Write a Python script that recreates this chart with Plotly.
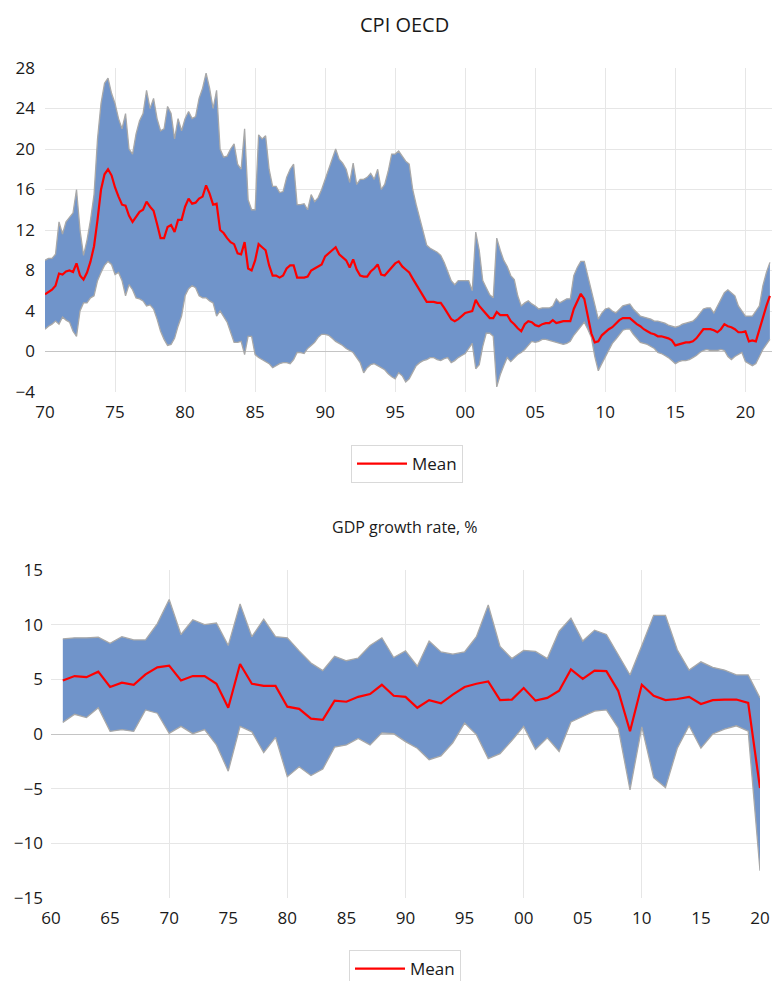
import plotly.graph_objects as go

# ---------------- CPI OECD (quarterly, 1970Q1 - 2021Q4) ----------------
cpi_start_year = 1970
cpi_upper = [
    9.0, 9.2, 9.2, 9.6,      # 1970
    12.8, 11.6, 12.8, 13.3,  # 1971
    13.7, 16.0, 12.0, 9.5,   # 1972
    11.0, 13.0, 15.5, 21.0,  # 1973
    24.5, 26.5, 27.0, 25.5,  # 1974
    24.5, 23.0, 22.0, 23.5,  # 1975
    20.0, 19.5, 21.5, 22.8,  # 1976
    23.5, 25.8, 24.0, 25.0,  # 1977
    23.0, 21.8, 22.0, 24.2,  # 1978
    23.5, 21.0, 23.0, 21.8,  # 1979
    23.0, 23.7, 23.0, 23.2,  # 1980
    25.0, 26.0, 27.5, 26.0,  # 1981
    24.0, 25.8, 20.0, 19.2,  # 1982
    19.3, 20.0, 20.5, 18.5,  # 1983
    18.0, 22.0, 15.0, 14.0,  # 1984
    14.0, 21.4, 21.0, 21.3,  # 1985
    18.0, 16.3, 16.3, 15.7,  # 1986
    15.8, 17.2, 18.0, 18.5,  # 1987
    14.5, 14.5, 14.6, 14.0,  # 1988
    15.5, 14.8, 15.2, 16.0,  # 1989
    17.0, 17.8, 18.8, 20.0,  # 1990
    19.0, 18.6, 18.0, 16.7,  # 1991
    18.6, 16.5, 17.0, 17.0,  # 1992
    17.2, 17.6, 17.0, 18.0,  # 1993
    16.0, 16.5, 17.8, 19.5,  # 1994
    19.5, 19.8, 19.3, 18.8,  # 1995
    18.5, 16.0, 14.5, 13.2,  # 1996
    12.0, 10.5, 10.2, 10.0,  # 1997
    9.8, 9.5, 8.8, 7.9,      # 1998
    7.0, 6.6, 7.0, 7.0,      # 1999
    7.0, 7.0, 6.0, 11.8,     # 2000
    10.0, 7.0, 6.3, 5.6,     # 2001
    5.3, 11.2, 10.0, 9.0,    # 2002
    8.4, 7.5, 7.1, 5.5,      # 2003
    4.5, 4.8, 5.0, 4.7,      # 2004
    4.5, 4.2, 4.3, 4.3,      # 2005
    4.3, 4.5, 5.2, 4.8,      # 2006
    5.0, 5.2, 5.2, 7.5,      # 2007
    8.3, 8.9, 8.9, 7.5,      # 2008
    6.0, 4.5, 3.2, 3.8,      # 2009
    4.2, 4.3, 4.0, 3.8,      # 2010
    4.2, 4.5, 4.6, 4.7,      # 2011
    4.2, 3.8, 3.5, 3.4,      # 2012
    3.3, 3.2, 3.0, 3.0,      # 2013
    2.9, 2.8, 2.6, 2.5,      # 2014
    2.4, 2.5, 2.7, 2.8,      # 2015
    2.9, 3.0, 3.3, 3.8,      # 2016
    4.2, 4.3, 4.3, 3.8,      # 2017
    4.5, 5.2, 5.8, 6.1,      # 2018
    5.8, 5.5, 4.5, 4.0,      # 2019
    3.5, 3.5, 3.5, 4.0,      # 2020
    4.5, 6.5, 7.8, 8.8,      # 2021
]
cpi_lower = [
    2.2, 2.5, 2.7, 3.0,      # 1970
    2.7, 3.4, 3.1, 2.9,      # 1971
    2.0, 1.5, 4.0, 4.8,      # 1972
    4.8, 5.3, 5.5, 7.0,      # 1973
    7.8, 8.5, 8.9, 8.6,      # 1974
    7.6, 7.8, 7.0, 5.5,      # 1975
    6.6, 6.1, 5.3, 5.2,      # 1976
    5.0, 4.5, 4.6, 4.2,      # 1977
    3.2, 2.0, 1.2, 0.6,      # 1978
    0.7, 1.3, 2.5, 3.5,      # 1979
    5.5, 6.2, 6.5, 6.3,      # 1980
    5.5, 5.3, 5.3, 5.0,      # 1981
    4.8, 3.5, 4.0, 3.4,      # 1982
    2.9, 1.9, 0.9, 0.9,      # 1983
    1.0, -0.3, 1.5, 1.5,     # 1984
    -0.3, -0.6, -0.8, -1.0,  # 1985
    -1.2, -1.6, -1.4, -1.2,  # 1986
    -1.1, -1.1, -1.2, -0.8,  # 1987
    -0.1, -0.1, -0.2, 0.3,   # 1988
    0.6, 0.9, 1.4, 1.7,      # 1989
    1.7, 1.6, 1.3, 1.0,      # 1990
    0.8, 0.6, 0.3, 0.1,      # 1991
    -0.1, -0.6, -1.1, -2.1,  # 1992
    -1.6, -1.3, -1.2, -1.4,  # 1993
    -1.6, -1.8, -2.2, -2.5,  # 1994
    -2.7, -2.1, -2.4, -3.0,  # 1995
    -2.7, -2.0, -1.4, -1.1,  # 1996
    -0.9, -0.8, -0.6, -0.6,  # 1997
    -0.8, -0.9, -0.7, -0.6,  # 1998
    -1.1, -0.9, -0.6, -0.4,  # 1999
    -0.2, 0.3, 0.8, -1.7,    # 2000
    -1.3, 0.5, 1.8, 1.8,     # 2001
    1.5, -3.5, -2.3, -1.4,   # 2002
    -0.6, -1.0, -0.6, -0.3,  # 2003
    -0.1, 0.2, 0.6, 1.0,     # 2004
    0.9, 1.0, 1.2, 1.2,      # 2005
    1.1, 1.0, 0.9, 0.8,      # 2006
    0.7, 0.8, 1.0, 1.6,      # 2007
    2.0, 2.4, 2.9, 2.2,      # 2008
    1.4, -0.5, -1.9, -1.2,   # 2009
    -0.5, 0.2, 0.8, 1.2,     # 2010
    1.6, 2.1, 2.2, 2.2,      # 2011
    1.7, 1.3, 0.9, 0.8,      # 2012
    0.7, 0.5, 0.3, -0.1,     # 2013
    -0.2, -0.4, -0.6, -0.9,  # 2014
    -1.2, -1.0, -0.9, -0.9,  # 2015
    -0.8, -0.6, -0.4, -0.1,  # 2016
    0.1, 0.2, 0.1, 0.1,      # 2017
    0.1, 0.2, 0.1, -0.5,     # 2018
    -0.8, -0.5, -0.3, -0.1,  # 2019
    -1.0, -1.2, -1.4, -1.2,  # 2020
    -0.5, 0.2, 0.7, 1.2,     # 2021
]
cpi_mean = [
    5.65, 5.9, 6.1, 6.5,     # 1970
    7.7, 7.6, 7.9, 8.0,      # 1971
    7.85, 8.7, 7.5, 7.1,     # 1972
    7.8, 8.9, 10.4, 13.0,    # 1973
    16.0, 17.5, 18.0, 17.4,  # 1974
    16.2, 15.3, 14.5, 14.4,  # 1975
    13.4, 12.8, 13.3, 13.8,  # 1976
    14.0, 14.8, 14.3, 13.9,  # 1977
    12.6, 11.2, 11.2, 12.3,  # 1978
    12.5, 11.8, 13.0, 13.0,  # 1979
    14.3, 15.1, 14.6, 14.7,  # 1980
    15.1, 15.3, 16.4, 15.6,  # 1981
    14.5, 14.6, 12.0, 11.7,  # 1982
    11.2, 10.8, 10.6, 9.7,   # 1983
    9.6, 10.8, 8.2, 8.0,     # 1984
    9.0, 10.6, 10.3, 10.0,   # 1985
    8.5, 7.5, 7.5, 7.3,      # 1986
    7.5, 8.2, 8.5, 8.5,      # 1987
    7.3, 7.3, 7.3, 7.4,      # 1988
    8.0, 8.2, 8.4, 8.6,      # 1989
    9.4, 9.7, 10.0, 10.3,    # 1990
    9.6, 9.3, 9.0, 8.3,      # 1991
    9.1, 8.1, 7.5, 7.4,      # 1992
    7.4, 7.9, 8.2, 8.6,      # 1993
    7.6, 7.5, 7.9, 8.4,      # 1994
    8.7, 8.9, 8.4, 8.1,      # 1995
    7.8, 7.2, 6.6, 6.0,      # 1996
    5.4, 4.9, 4.9, 4.9,      # 1997
    4.8, 4.8, 4.3, 3.8,      # 1998
    3.2, 3.0, 3.2, 3.5,      # 1999
    3.8, 3.9, 4.0, 5.1,      # 2000
    4.5, 4.1, 3.7, 3.3,      # 2001
    3.3, 3.9, 3.6, 3.6,      # 2002
    3.6, 3.0, 2.7, 2.3,      # 2003
    2.0, 2.7, 3.0, 2.9,      # 2004
    2.6, 2.5, 2.7, 2.8,      # 2005
    2.8, 3.1, 2.8, 2.9,      # 2006
    3.0, 3.0, 3.0, 4.2,      # 2007
    5.0, 5.7, 5.2, 3.5,      # 2008
    1.8, 0.9, 1.0, 1.6,      # 2009
    1.9, 2.2, 2.4, 2.8,      # 2010
    3.1, 3.3, 3.3, 3.3,      # 2011
    3.0, 2.7, 2.5, 2.2,      # 2012
    2.0, 1.8, 1.7, 1.5,      # 2013
    1.5, 1.4, 1.3, 1.1,      # 2014
    0.6, 0.7, 0.8, 0.9,      # 2015
    0.9, 1.0, 1.3, 1.7,      # 2016
    2.2, 2.2, 2.2, 2.1,      # 2017
    1.9, 2.2, 2.7, 2.5,      # 2018
    2.4, 2.2, 1.9, 1.9,      # 2019
    2.0, 1.0, 1.1, 1.0,      # 2020
    2.2, 3.4, 4.5, 5.5,      # 2021
]
cpi_x = [cpi_start_year + i / 4 for i in range(len(cpi_mean))]
cpi_tickvals = list(range(1970, 2021, 5))
cpi_ticktext = ["70", "75", "80", "85", "90", "95", "00", "05", "10", "15", "20"]
cpi_yticks = [-4, 0, 4, 8, 12, 16, 20, 24, 28]

# ---------------- GDP growth rate (annual, 1961 - 2020) ----------------
gdp_years = list(range(1961, 2021))
gdp_upper = [
    8.7, 8.8, 8.8, 8.85, 8.3, 8.9, 8.6, 8.6, 10.1, 12.3,
    9.1, 10.45, 10.0, 10.15, 8.1, 11.9, 8.9, 10.5, 8.9, 8.8,
    7.6, 6.5, 5.8, 7.1, 6.7, 6.95, 8.1, 8.8, 7.0, 7.6,
    6.2, 8.5, 7.5, 7.3, 7.5, 8.9, 11.8, 8.0, 6.9, 7.65,
    7.55, 6.9, 9.4, 10.6, 8.5, 9.5, 9.1, 7.25, 5.4, 8.1,
    10.85, 10.85, 7.7, 5.85, 6.6, 6.1, 5.85, 5.4, 5.4, 3.3,
]
gdp_lower = [
    1.06, 1.8, 1.5, 2.4, 0.24, 0.4, 0.24, 2.2, 1.9, 0.06,
    0.7, 0.03, 0.4, -1.0, -3.4, 0.7, 0.2, -1.7, -0.3, -3.9,
    -3.0, -3.8, -3.2, -1.2, -1.0, -0.4, -1.0, 0.1, 0.03, -0.7,
    -1.3, -2.35, -2.0, -0.8, 1.0, -0.06, -2.25, -1.8, -0.6, 0.7,
    -1.4, -0.35, -1.6, 1.1, 1.6, 2.1, 2.2, 0.55, -5.1, 0.65,
    -4.0, -4.9, -1.3, 0.75, -1.3, 0.0, 0.45, 0.75, 0.25, -12.5,
]
gdp_mean = [
    4.9, 5.3, 5.2, 5.7, 4.3, 4.7, 4.5, 5.45, 6.1, 6.25,
    4.9, 5.3, 5.3, 4.6, 2.4, 6.4, 4.6, 4.4, 4.4, 2.5,
    2.3, 1.4, 1.3, 3.05, 2.95, 3.4, 3.65, 4.5, 3.5, 3.4,
    2.4, 3.1, 2.8, 3.6, 4.3, 4.6, 4.8, 3.1, 3.15, 4.2,
    3.05, 3.3, 3.95, 5.9, 5.05, 5.8, 5.75, 3.95, 0.25, 4.5,
    3.5, 3.1, 3.2, 3.4, 2.75, 3.1, 3.15, 3.15, 2.85, -4.95,
]
gdp_tickvals = list(range(1960, 2021, 5))
gdp_ticktext = ["60", "65", "70", "75", "80", "85", "90", "95", "00", "05", "10", "15", "20"]
gdp_yticks = [-15, -10, -5, 0, 5, 10, 15]

# ---------------- styling ----------------
W, H = 772, 981
FONT = "Open Sans, Noto Sans, DejaVu Sans, sans-serif"
BAND = "#7094CA"
EDGE = "#A8A8A8"
RED = "#FF0000"
GRID = "#E6E6E6"
ZERO = "#C4C4C4"
TXT = "#1A1A1A"


def px_x(p):
    return p / W


def px_y(p):
    return (H - p) / H


fig = go.Figure()

# --- top: CPI ---
fig.add_trace(go.Scatter(x=cpi_x, y=cpi_lower, mode="lines", line=dict(color=EDGE, width=1.3),
                         showlegend=False, hoverinfo="skip", xaxis="x", yaxis="y"))
fig.add_trace(go.Scatter(x=cpi_x, y=cpi_upper, mode="lines", line=dict(color=EDGE, width=1.3),
                         fill="tonexty", fillcolor=BAND, showlegend=False, hoverinfo="skip",
                         xaxis="x", yaxis="y"))
fig.add_trace(go.Scatter(x=cpi_x, y=cpi_mean, mode="lines", name="Mean",
                         line=dict(color=RED, width=2.2), xaxis="x", yaxis="y", legend="legend"))
# grid-only overlay subplot for the top chart
fig.add_trace(go.Scatter(x=[], y=[], xaxis="x3", yaxis="y3", showlegend=False, hoverinfo="skip"))

# --- bottom: GDP ---
fig.add_trace(go.Scatter(x=gdp_years, y=gdp_lower, mode="lines", line=dict(color=EDGE, width=1.3),
                         showlegend=False, hoverinfo="skip", xaxis="x2", yaxis="y2"))
fig.add_trace(go.Scatter(x=gdp_years, y=gdp_upper, mode="lines", line=dict(color=EDGE, width=1.3),
                         fill="tonexty", fillcolor=BAND, showlegend=False, hoverinfo="skip",
                         xaxis="x2", yaxis="y2"))
fig.add_trace(go.Scatter(x=gdp_years, y=gdp_mean, mode="lines", name="Mean",
                         line=dict(color=RED, width=2.2), xaxis="x2", yaxis="y2", legend="legend2"))
fig.add_trace(go.Scatter(x=[], y=[], xaxis="x4", yaxis="y4", showlegend=False, hoverinfo="skip"))

top_xdom = [px_x(45), 1.0]
top_ydom = [px_y(392), px_y(68)]
bot_xdom = [px_x(51), px_x(760)]
bot_ydom = [px_y(898), px_y(570)]

tick_font = dict(family=FONT, size=17, color=TXT)
base_axis = dict(showgrid=False, zeroline=False, showline=False, ticks="", automargin=False,
                 tickfont=tick_font, fixedrange=True)
grid_axis = dict(showline=False, ticks="", showticklabels=False, automargin=False,
                 gridcolor=GRID, gridwidth=1, fixedrange=True)

fig.update_layout(
    width=W, height=H,
    margin=dict(l=0, r=0, t=0, b=0, pad=0, autoexpand=False),
    paper_bgcolor="white", plot_bgcolor="white",
    font=dict(family=FONT, size=17, color=TXT),
    xaxis=dict(base_axis, domain=top_xdom, range=[1970, 2021.9], anchor="y",
               tickmode="array", tickvals=cpi_tickvals, ticktext=cpi_ticktext,
               ticklabelstandoff=8),
    yaxis=dict(base_axis, domain=top_ydom, range=[-4, 28], anchor="x",
               tickmode="array", tickvals=cpi_yticks, ticklabelstandoff=9),
    xaxis3=dict(grid_axis, overlaying="x", anchor="y3", range=[1970, 2021.9],
                tickmode="array", tickvals=list(range(1975, 2021, 5)), showgrid=True, zeroline=False),
    yaxis3=dict(grid_axis, overlaying="y", anchor="x3", range=[-4, 28],
                tickmode="array", tickvals=[4, 8, 12, 16, 20, 24], showgrid=True,
                zeroline=True, zerolinecolor=ZERO, zerolinewidth=1.3),
    xaxis2=dict(base_axis, domain=bot_xdom, range=[1960, 2020], anchor="y2",
                tickmode="array", tickvals=gdp_tickvals, ticktext=gdp_ticktext,
                ticklabelstandoff=8),
    yaxis2=dict(base_axis, domain=bot_ydom, range=[-15, 15], anchor="x2",
                tickmode="array", tickvals=gdp_yticks, ticklabelstandoff=7),
    xaxis4=dict(grid_axis, overlaying="x2", anchor="y4", range=[1960, 2020],
                tickmode="array", tickvals=list(range(1970, 2011, 10)), showgrid=True, zeroline=False),
    yaxis4=dict(grid_axis, overlaying="y2", anchor="x4", range=[-15, 15],
                tickmode="array", tickvals=[-10, -5, 5, 10], showgrid=True,
                zeroline=True, zerolinecolor=ZERO, zerolinewidth=1.3),
    legend=dict(x=px_x(407), xanchor="center", y=px_y(445), yanchor="top",
                bordercolor="#D9D9D9", borderwidth=1, bgcolor="white",
                font=dict(family=FONT, size=17, color=TXT), itemwidth=50),
    legend2=dict(x=px_x(405), xanchor="center", y=px_y(950), yanchor="top",
                 bordercolor="#D9D9D9", borderwidth=1, bgcolor="white",
                 font=dict(family=FONT, size=17, color=TXT), itemwidth=50),
    annotations=[
        dict(text="CPI OECD", x=px_x(404), y=px_y(25), xref="paper", yref="paper",
             xanchor="center", yanchor="middle", showarrow=False,
             font=dict(family=FONT, size=20, color=TXT)),
        dict(text="GDP growth rate, %", x=px_x(405), y=px_y(527), xref="paper", yref="paper",
             xanchor="center", yanchor="middle", showarrow=False,
             font=dict(family=FONT, size=16, color=TXT)),
    ],
)

fig.write_html(
    "out.html",
    config={"displayModeBar": False},
    post_script="document.body.style.margin='0';document.body.style.overflow='hidden';",
)
